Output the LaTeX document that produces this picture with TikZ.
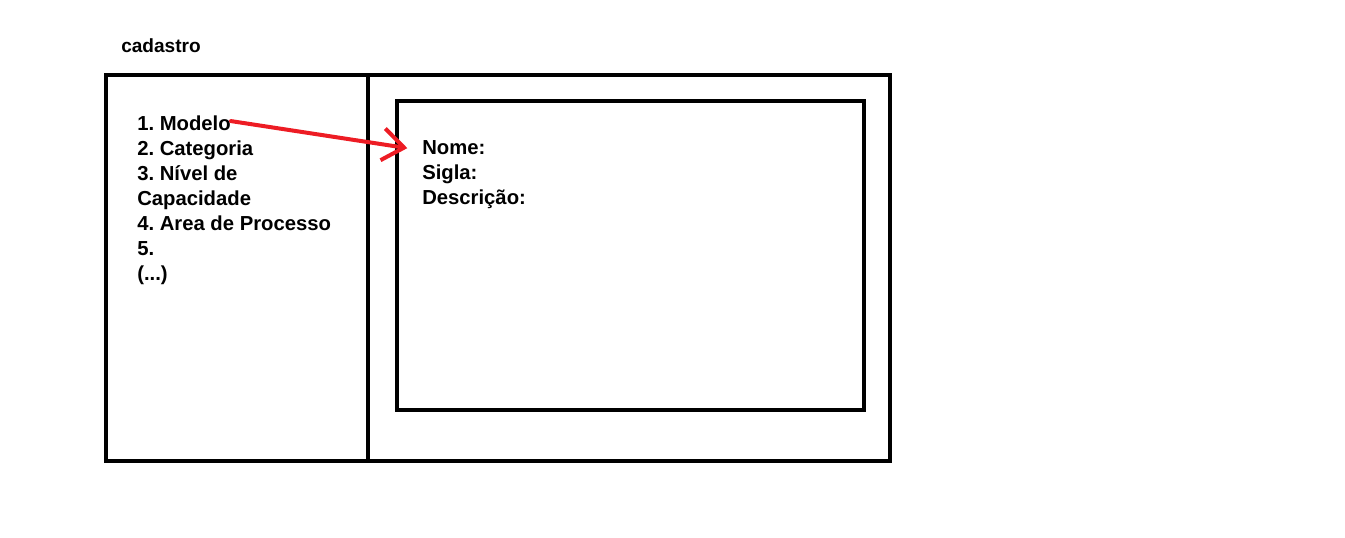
\documentclass[tikz,border=0pt]{standalone}
\usepackage{fontspec}
\setmainfont{Liberation Sans}
\usetikzlibrary{arrows.meta}
\definecolor{vermelho}{RGB}{237,28,36}
\newcommand\etcetera{(...)}
\frenchspacing
\begin{document}
\begin{tikzpicture}[x=0.75pt, y=-0.75pt, line join=miter,
	txt/.style={inner sep=0pt, anchor=base west, font=\fontsize{15.2}{17}\selectfont\bfseries},
	caixa/.style={line width=3pt}]
	\useasboundingbox (0,0) rectangle (1345,538);
	% titulo
	\node[txt, font=\fontsize{14.3}{16}\selectfont\bfseries] (titulo) at (121,53) {cadastro};
	% caixas
	\draw[caixa] (106,75) rectangle (890,461);
	\draw[caixa] (368,75) -- (368,463);
	\draw[caixa] (397,101) rectangle (864,410);
	% lista
	\foreach \t [count=\i] in {1. Modelo, 2. Categoria, 3. Nível de, Capacidade, 4. Area de Processo, 5., \etcetera}
		\node[txt] (l\i) at (137,{131+25*(\i-1)}) {\t};
	% campos
	\foreach \t [count=\i] in {Nome:, Sigla:, Descrição:}
		\node[txt] (c\i) at (422,{155+25*(\i-1)}) {\t};
	% seta
	\draw[vermelho, line width=3pt, line cap=round, -{Straight Barb[length=16pt, width=24pt]}]
		([yshift=2pt]l1.east) -- ([xshift=-11pt]c1.west);
\end{tikzpicture}
\end{document}
